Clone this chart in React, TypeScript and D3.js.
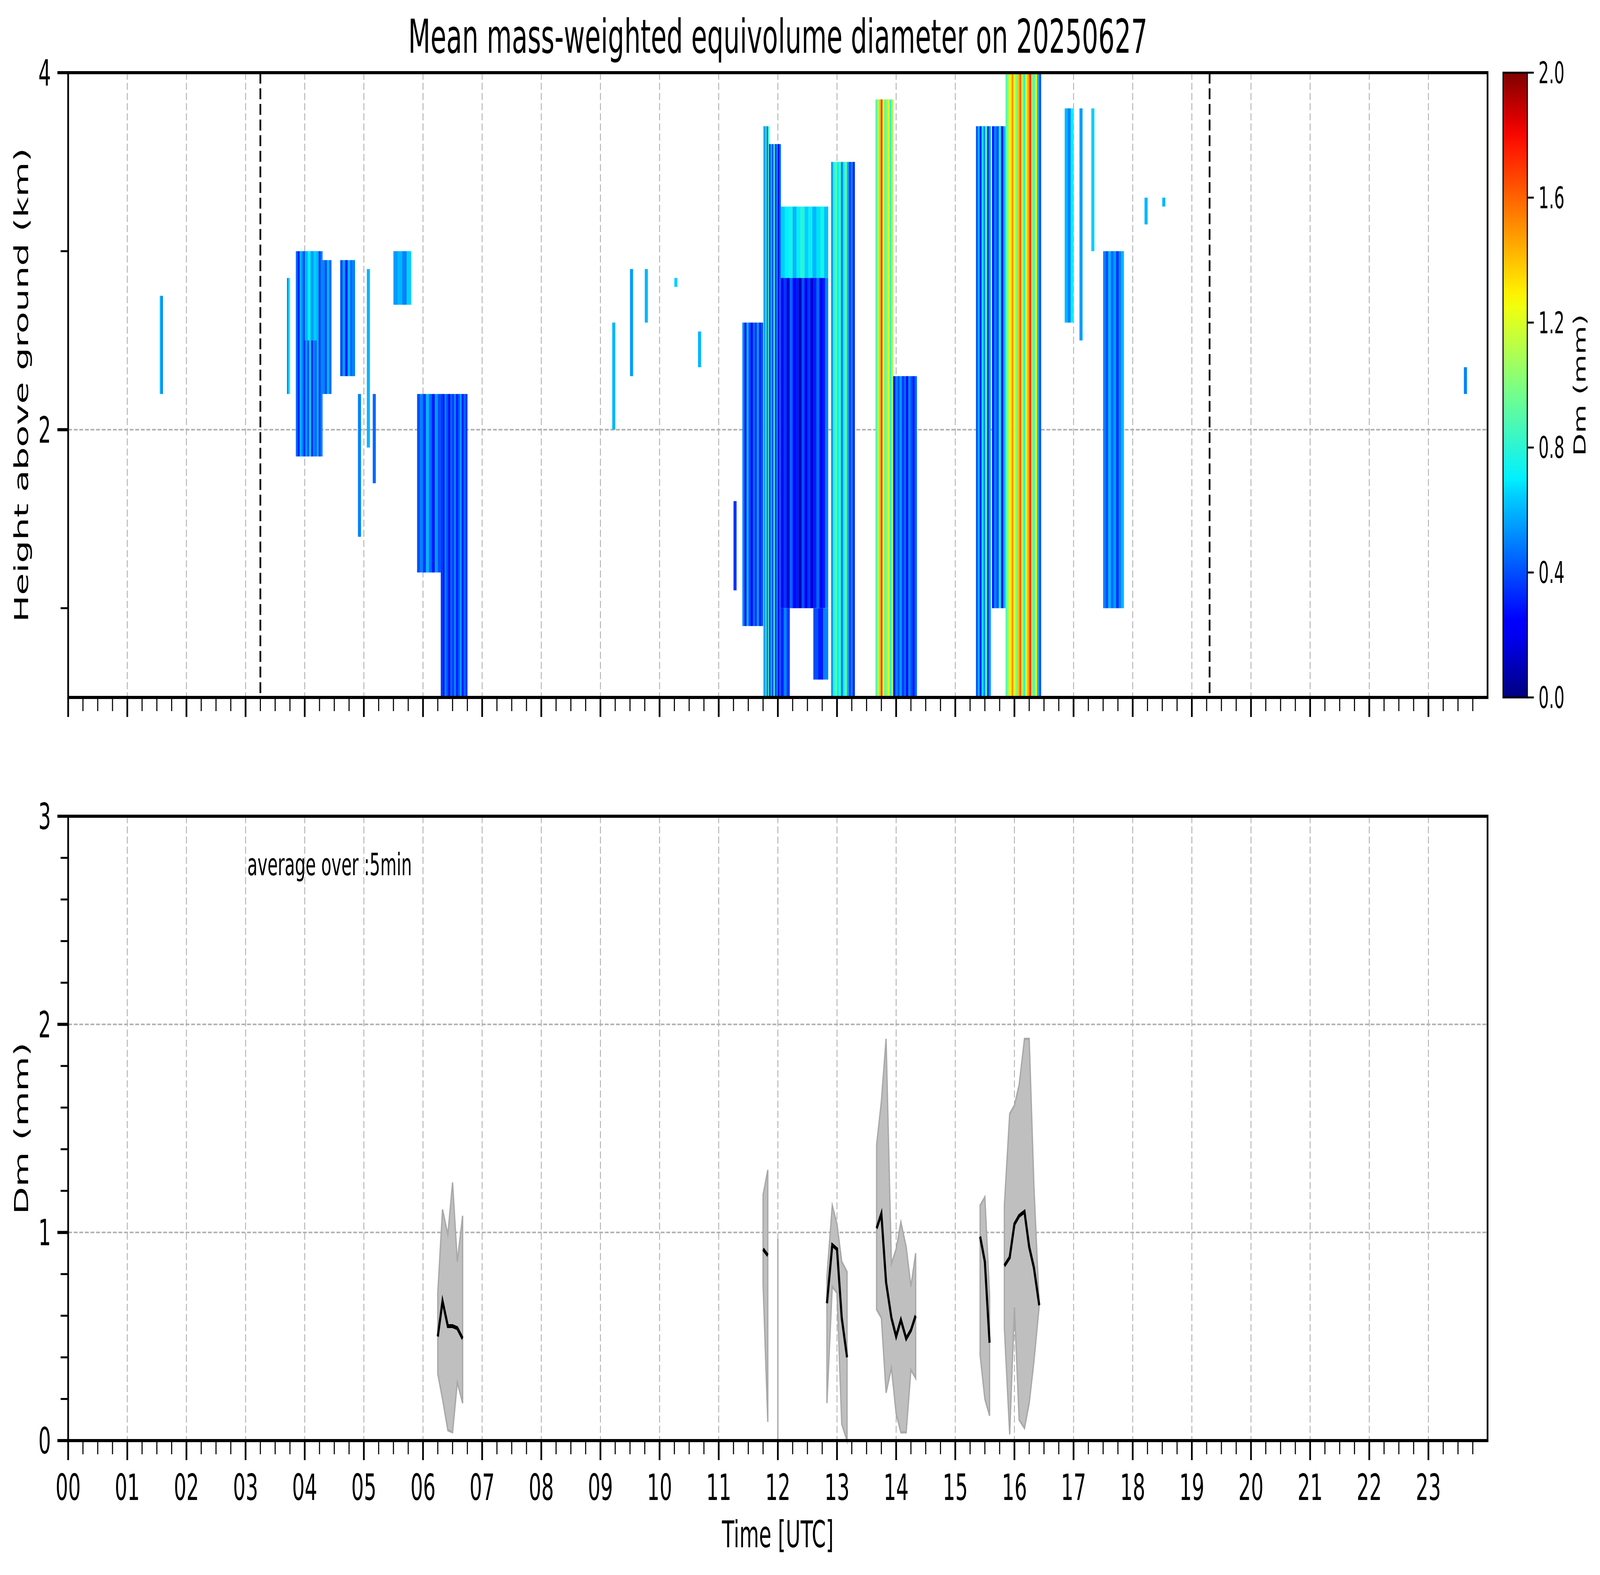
import React from 'react';
import * as d3 from 'd3';

// ---- data ----
// radar blocks: [tStart (h), tEnd (h), hBottom (km), hTop (km), Dm values across the block]
const dmBlocks: [number, number, number, number, number[]][] = [
  [1.55, 1.6, 2.2, 2.75, [0.6, 0.5]],
  [3.7, 3.75, 2.2, 2.85, [0.5, 0.7]],
  [3.85, 4.3, 1.85, 3.0, [0.45, 0.3, 0.6, 0.5, 0.35, 0.55, 0.4, 0.65, 0.3, 0.5, 0.45, 0.6, 0.35, 0.5]],
  [4.0, 4.2, 2.5, 3.0, [0.6, 0.7, 0.55, 0.65]],
  [4.3, 4.45, 2.2, 2.95, [0.5, 0.4, 0.6, 0.45]],
  [4.6, 4.85, 2.3, 2.95, [0.4, 0.55, 0.3, 0.6, 0.45, 0.5]],
  [4.9, 4.95, 1.4, 2.2, [0.5]],
  [5.05, 5.1, 1.9, 2.9, [0.6]],
  [5.15, 5.2, 1.7, 2.2, [0.45]],
  [5.5, 5.8, 2.7, 3.0, [0.55, 0.6, 0.5, 0.65]],
  [5.9, 6.3, 1.2, 2.2, [0.4, 0.5, 0.35, 0.6, 0.45, 0.3, 0.55, 0.4]],
  [6.3, 6.75, 0.5, 2.2, [0.35, 0.3, 0.5, 0.4, 0.25, 0.45, 0.35, 0.5, 0.3, 0.4, 0.55, 0.3, 0.45, 0.35]],
  [9.2, 9.25, 2.0, 2.6, [0.6]],
  [9.5, 9.55, 2.3, 2.9, [0.55]],
  [9.75, 9.8, 2.6, 2.9, [0.6]],
  [10.25, 10.3, 2.8, 2.85, [0.65]],
  [10.65, 10.7, 2.35, 2.55, [0.6]],
  [11.25, 11.3, 1.1, 1.6, [0.35]],
  [11.4, 11.75, 0.9, 2.6, [0.5, 0.3, 0.6, 0.4, 0.25, 0.45, 0.35, 0.55, 0.3, 0.4]],
  [11.75, 11.85, 0.5, 3.7, [0.7, 0.5, 0.9, 0.4, 0.8]],
  [11.85, 12.05, 0.5, 3.6, [0.3, 0.6, 0.4, 0.8, 0.3, 0.5, 0.2, 0.45]],
  [12.05, 12.85, 2.85, 3.25, [0.65, 0.7, 0.75, 0.6, 0.7, 0.8, 0.65, 0.72, 0.6, 0.68, 0.75, 0.62]],
  [12.05, 12.85, 1.0, 2.85, [0.2, 0.35, 0.15, 0.45, 0.25, 0.3, 0.1, 0.4, 0.2, 0.35, 0.15, 0.3, 0.45, 0.2, 0.3, 0.5]],
  [12.05, 12.2, 0.5, 1.0, [0.3, 0.5, 0.35]],
  [12.6, 12.85, 0.6, 1.0, [0.4, 0.3, 0.5]],
  [12.9, 13.3, 0.5, 3.5, [0.55, 0.8, 0.9, 0.7, 0.85, 0.5, 0.75, 0.95, 0.6, 0.35, 0.5, 0.3]],
  [13.65, 13.95, 0.5, 3.85, [0.9, 1.1, 1.4, 1.7, 1.2, 0.9, 1.0, 1.3, 0.8, 1.1]],
  [13.95, 14.35, 0.5, 2.3, [0.3, 0.5, 0.4, 0.55, 0.35, 0.45, 0.25, 0.5, 0.4, 0.3, 0.45]],
  [15.35, 15.6, 0.5, 3.7, [0.4, 0.6, 0.3, 0.7, 0.5, 0.9, 0.35, 0.55]],
  [15.62, 15.85, 1.0, 3.7, [0.3, 0.5, 0.4, 0.7, 0.25, 0.6]],
  [15.85, 16.45, 0.5, 4.0, [0.9, 1.1, 1.3, 1.5, 1.2, 1.0, 1.4, 1.6, 1.1, 0.8, 1.25, 1.45, 1.7, 1.0, 0.9, 1.3, 0.6, 0.4]],
  [16.85, 17.0, 2.6, 3.8, [0.6, 0.5, 0.7]],
  [17.1, 17.15, 2.5, 3.8, [0.55]],
  [17.3, 17.35, 3.0, 3.8, [0.65]],
  [17.5, 17.85, 1.0, 3.0, [0.5, 0.4, 0.6, 0.45, 0.55, 0.35, 0.5, 0.6]],
  [18.2, 18.25, 3.15, 3.3, [0.6]],
  [18.5, 18.55, 3.25, 3.3, [0.6]],
  [23.6, 23.65, 2.2, 2.35, [0.5]],
];

// vertical dashed markers (h)
const markerTimes = [3.25, 19.3];

// 5-minute averages: each segment is a run of consecutive points
const avgSegments: { t: number[]; mean: number[]; lo: number[]; hi: number[] }[] = [
  {
    t: [6.25, 6.33, 6.42, 6.5, 6.58, 6.67],
    mean: [0.5, 0.67, 0.55, 0.55, 0.54, 0.49],
    lo: [0.32, 0.2, 0.05, 0.04, 0.28, 0.18],
    hi: [0.71, 1.11, 0.99, 1.24, 0.86, 1.08],
  },
  { t: [11.75, 11.83], mean: [0.92, 0.89], lo: [0.75, 0.09], hi: [1.18, 1.3] },
  { t: [12.0, 12.0], mean: [NaN, NaN], lo: [0.0, 0.0], hi: [0.97, 0.97] },
  {
    t: [12.83, 12.92, 13.0, 13.08, 13.17],
    mean: [0.66, 0.94, 0.92, 0.59, 0.4],
    lo: [0.18, 0.74, 0.71, 0.08, 0.0],
    hi: [0.79, 1.13, 1.04, 0.86, 0.81],
  },
  {
    t: [13.67, 13.75, 13.83, 13.92, 14.0, 14.08, 14.17, 14.25, 14.33],
    mean: [1.02, 1.09, 0.76, 0.59, 0.5, 0.58, 0.49, 0.53, 0.6],
    lo: [0.63, 0.59, 0.23, 0.35, 0.13, 0.04, 0.04, 0.34, 0.3],
    hi: [1.42, 1.63, 1.93, 0.85, 0.92, 1.05, 0.93, 0.74, 0.9],
  },
  {
    t: [15.42, 15.5, 15.58],
    mean: [0.98, 0.86, 0.47],
    lo: [0.41, 0.2, 0.12],
    hi: [1.13, 1.17, 0.7],
  },
  {
    t: [15.83, 15.92, 16.0, 16.08, 16.17, 16.25, 16.33, 16.42],
    mean: [0.84, 0.88, 1.04, 1.08, 1.1, 0.93, 0.83, 0.65],
    lo: [0.54, 0.03, 0.64, 0.1, 0.06, 0.18, 0.38, 0.65],
    hi: [1.13, 1.57, 1.61, 1.71, 1.93, 1.93, 1.22, 0.65],
  },
];

const hourLabels = d3.range(0, 24).map((h) => String(h).padStart(2, '0'));
const cbTicks = [0.0, 0.4, 0.8, 1.2, 1.6, 2.0];

// matplotlib "jet"
const jet = d3
  .scaleLinear<string>()
  .domain([0, 0.11, 0.125, 0.34, 0.35, 0.5, 0.64, 0.65, 0.89, 0.91, 1])
  .range(['#00007f', '#0000ff', '#0000ff', '#00e0ff', '#00f0ff', '#7fff7f', '#ffff00', '#ffef00', '#ff1000', '#f00000', '#7f0000'])
  .clamp(true);

const FONT = 'DejaVu Sans';
const W = 7442, H = 4031;
const L = 317, R = 6919;
const TOP1 = 186, BOT1 = 1785;
const TOP2 = 2089, BOT2 = 3687;
const CBX = 6991, CBW = 113;
const TICK_FS = 92;

const App: React.FC = () => {
  const x = d3.scaleLinear().domain([0, 24]).range([L, R]);
  const yH = d3.scaleLinear().domain([0.5, 4]).range([BOT1, TOP1]);
  const yD = d3.scaleLinear().domain([0, 3]).range([BOT2, TOP2]);
  const cb = d3.scaleLinear().domain([0, 2]).range([BOT1, TOP1]);

  const majors = d3.range(0, 24);
  const minors = d3.range(0, 24 * 4).map((i) => i / 4).filter((v) => v % 1 !== 0);

  const grid = { stroke: '#b0b0b0', strokeWidth: 4, strokeDasharray: '18 8' };

  const xAxis = (yb: number, labels: boolean) => (
    <g>
      {majors.map((h) => (
        <line key={'M' + h} x1={x(h)} x2={x(h)} y1={yb} y2={yb + 50} stroke="black" strokeWidth={8} />
      ))}
      {minors.map((h) => (
        <line key={'m' + h} x1={x(h)} x2={x(h)} y1={yb} y2={yb + 35} stroke="black" strokeWidth={5} />
      ))}
      {labels &&
        majors.map((h) => (
          <text key={'l' + h} x={x(h)} y={yb + 152} fontSize={TICK_FS} textAnchor="middle" fontFamily={FONT}>
            {hourLabels[h]}
          </text>
        ))}
    </g>
  );

  return (
    <div style={{ position: 'fixed', left: 0, top: 0, width: '100vw', height: '100vh' }}>
      <svg
        width="100%"
        height="100%"
        viewBox={`0 0 ${W} ${H}`}
        preserveAspectRatio="none"
        style={{ display: 'block', background: 'white' }}
      >
        <defs>
          <linearGradient id="jetgrad" x1="0" y1="1" x2="0" y2="0">
            {d3.range(0, 41).map((i) => (
              <stop key={i} offset={i / 40} stopColor={jet(i / 40)} />
            ))}
          </linearGradient>
          <clipPath id="clip1">
            <rect x={L} y={TOP1} width={R - L} height={BOT1 - TOP1} />
          </clipPath>
        </defs>

        <text x={(L + R) / 2} y={135} fontSize={120} textAnchor="middle" fontFamily={FONT}>
          Mean mass-weighted equivolume diameter on 20250627
        </text>

        {/* ---- top panel ---- */}
        <g>
          {majors.map((h) => (
            <line key={h} x1={x(h)} x2={x(h)} y1={TOP1} y2={BOT1} {...grid} />
          ))}
          <line x1={L} x2={R} y1={yH(2)} y2={yH(2)} {...grid} />
          <g clipPath="url(#clip1)">
            {dmBlocks.map(([t0, t1, h0, h1, dms], bi) => {
              const w = (x(t1) - x(t0)) / dms.length;
              return dms.map((d, j) => (
                <rect
                  key={bi + '-' + j}
                  x={x(t0) + j * w}
                  y={yH(h1)}
                  width={w + 0.5}
                  height={yH(h0) - yH(h1)}
                  fill={jet(d / 2)}
                />
              ));
            })}
          </g>
          {markerTimes.map((t) => (
            <line key={t} x1={x(t)} x2={x(t)} y1={TOP1} y2={BOT1} stroke="black" strokeWidth={8} strokeDasharray="28 12" />
          ))}
          <rect x={L} y={TOP1} width={R - L} height={BOT1 - TOP1} fill="none" stroke="black" strokeWidth={8} />
          {xAxis(BOT1, false)}
          {[2, 4].map((v) => (
            <g key={v}>
              <line x1={L - 50} x2={L} y1={yH(v)} y2={yH(v)} stroke="black" strokeWidth={8} />
              <text x={L - 80} y={yH(v) + 33} fontSize={TICK_FS} textAnchor="end" fontFamily={FONT}>
                {v}
              </text>
            </g>
          ))}
          {[1, 3].map((v) => (
            <line key={v} x1={L - 35} x2={L} y1={yH(v)} y2={yH(v)} stroke="black" strokeWidth={5} />
          ))}
          <text
            transform={`translate(130,${(TOP1 + BOT1) / 2}) rotate(-90)`}
            fontSize={92}
            textAnchor="middle"
            fontFamily={FONT}
          >
            Height above ground (km)
          </text>
        </g>

        {/* ---- colorbar ---- */}
        <g>
          <rect x={CBX} y={TOP1} width={CBW} height={BOT1 - TOP1} fill="url(#jetgrad)" stroke="black" strokeWidth={5} />
          {cbTicks.map((v) => (
            <g key={v}>
              <line x1={CBX + CBW} x2={CBX + CBW + 30} y1={cb(v)} y2={cb(v)} stroke="black" strokeWidth={5} />
              <text x={7156} y={cb(v) + 27} fontSize={76} fontFamily={FONT}>
                {v.toFixed(1)}
              </text>
            </g>
          ))}
          <text
            transform={`translate(7375,${(TOP1 + BOT1) / 2}) rotate(-90)`}
            fontSize={76}
            textAnchor="middle"
            fontFamily={FONT}
          >
            Dm (mm)
          </text>
        </g>

        {/* ---- bottom panel ---- */}
        <g>
          {majors.map((h) => (
            <line key={h} x1={x(h)} x2={x(h)} y1={TOP2} y2={BOT2} {...grid} />
          ))}
          {[1, 2].map((v) => (
            <line key={v} x1={L} x2={R} y1={yD(v)} y2={yD(v)} {...grid} />
          ))}
          {avgSegments.map((s, i) => {
            const band = d3
              .area<number>()
              .x((_, j) => x(s.t[j]))
              .y0((_, j) => yD(s.lo[j]))
              .y1((_, j) => yD(s.hi[j]));
            const line = d3
              .line<number>()
              .defined((d) => !isNaN(d))
              .x((_, j) => x(s.t[j]))
              .y((d) => yD(d));
            return (
              <g key={i}>
                <path d={band(s.t) ?? ''} fill="#bfbfbf" stroke="#a8a8a8" strokeWidth={6} />
                <path d={line(s.mean) ?? ''} fill="none" stroke="black" strokeWidth={10} />
              </g>
            );
          })}
          <text x={1150} y={2240} fontSize={78} fontFamily={FONT}>
            average over :5min
          </text>
          <rect x={L} y={TOP2} width={R - L} height={BOT2 - TOP2} fill="none" stroke="black" strokeWidth={8} />
          {xAxis(BOT2, true)}
          {[0, 1, 2, 3].map((v) => (
            <g key={v}>
              <line x1={L - 50} x2={L} y1={yD(v)} y2={yD(v)} stroke="black" strokeWidth={8} />
              <text x={L - 80} y={yD(v) + 33} fontSize={TICK_FS} textAnchor="end" fontFamily={FONT}>
                {v}
              </text>
            </g>
          ))}
          {d3
            .range(0, 16)
            .map((i) => i / 5)
            .filter((v) => Math.abs(v - Math.round(v)) > 1e-6)
            .map((v) => (
              <line key={v} x1={L - 35} x2={L} y1={yD(v)} y2={yD(v)} stroke="black" strokeWidth={5} />
            ))}
          <text
            transform={`translate(130,${(TOP2 + BOT2) / 2}) rotate(-90)`}
            fontSize={92}
            textAnchor="middle"
            fontFamily={FONT}
          >
            Dm (mm)
          </text>
          <text x={(L + R) / 2} y={3960} fontSize={94} textAnchor="middle" fontFamily={FONT}>
            Time [UTC]
          </text>
        </g>
      </svg>
    </div>
  );
};

export default App;
